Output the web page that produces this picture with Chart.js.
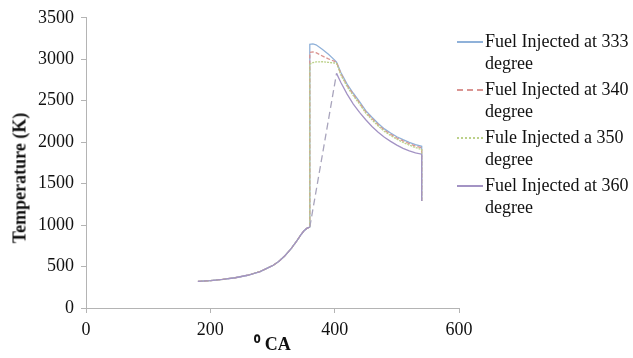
<!DOCTYPE html>
<html>
<head>
<meta charset="utf-8">
<script src="https://cdn.jsdelivr.net/npm/chart.js@4.4.1/dist/chart.umd.min.js"></script>
<style>
    html, body { margin: 0; padding: 0; background: #fff; }
    #wrap { position: relative; width: 633px; height: 358px; }
    #legend { position: absolute; left: 457px; top: 30px; font-family: 'Liberation Serif', 'Times New Roman', serif; font-size: 18px; color: #111; }
    .item { position: relative; height: 48px; line-height: 22px; padding-left: 28px; }
    .item span.mk { position: absolute; left: 0; top: 11px; width: 26px; height: 0; border-top: 2px solid; }
    #ytitle { position: absolute; left: 20px; top: 178px; transform: translate(-50%, -50%) rotate(-90deg); white-space: nowrap;
              font-family: 'Liberation Serif', 'Times New Roman', serif; font-size: 18px; font-weight: bold; color: #111; }
</style>
</head>
<body>
<div id="wrap">
    <canvas id="tempChart" width="633" height="358"></canvas>
    <div id="legend"></div>
    <div id="ytitle">Temperature (K)</div>
</div>
<script>
const compAngle = [180, 200, 220, 240, 260, 280, 300, 310, 320, 330, 340, 345, 350, 355, 360];
const compTemp  = [320, 330, 345, 365, 395, 440, 510, 560, 630, 715, 820, 875, 925, 960, 975];

const expAngle = [410, 420, 430, 440, 450, 460, 470, 480, 490, 500, 510, 520, 530, 540];
const exp333 = [2840, 2700, 2590, 2490, 2380, 2300, 2225, 2160, 2110, 2065, 2030, 1998, 1970, 1950];
const exp340 = [2825, 2685, 2575, 2475, 2365, 2285, 2210, 2145, 2095, 2050, 2015, 1983, 1953, 1932];
const exp350 = [2810, 2670, 2560, 2460, 2350, 2270, 2195, 2130, 2080, 2035, 1998, 1965, 1935, 1912];
const exp360 = [2720, 2580, 2460, 2360, 2270, 2190, 2120, 2060, 2010, 1965, 1925, 1895, 1870, 1855];

const peakAngle = [360, 365, 370, 380, 390, 400, 403];
const peak333 = [3180, 3185, 3175, 3120, 3060, 2990, 2965];
const peak340 = [3082, 3090, 3080, 3040, 3005, 2975, 2962];
const peak350 = [2940, 2960, 2968, 2970, 2962, 2955, 2950];
const peak360 = [2830];  // reached at 403 only
const endTemp = 1290;

const labels = ['Fuel Injected at 333|degree', 'Fuel Injected at 340|degree', 'Fule Injected a 350|degree', 'Fuel Injected at 360|degree'];
const colors = ['#8fb1d9', '#da9592', '#bcd18a', '#a393c4'];
const dashes = [[], [4, 2], [2, 1], []];

function build(peakA, peakT, expT) {
    const pts = compAngle.map((a, i) => ({ x: a, y: compTemp[i] }));
    peakA.forEach((a, i) => pts.push({ x: a, y: peakT[i] }));
    expAngle.forEach((a, i) => pts.push({ x: a, y: expT[i] }));
    pts.push({ x: 540, y: endTemp });
    return pts;
}

const seriesData = [
    build(peakAngle, peak333, exp333),
    build(peakAngle, peak340, exp340),
    build(peakAngle, peak350, exp350),
    build([403], peak360, exp360)
];

const isGap = ctx => ctx.p0.parsed.x === 360 && ctx.p1.parsed.x === 403;

const datasets = seriesData.map((d, i) => ({
    label: labels[i],
    data: d,
    borderColor: colors[i],
    borderWidth: 1.3,
    borderDash: dashes[i],
    pointRadius: 0,
    tension: 0,
    fill: false,
    order: 3 - i,
    segment: i === 3 ? {
        borderDash: ctx => isGap(ctx) ? [7, 4] : undefined,
        borderColor: ctx => isGap(ctx) ? '#a8a4bc' : undefined
    } : undefined
}));

const font = { family: "'Liberation Serif', 'Times New Roman', serif", size: 18 };
const axisColor = '#b4b4b4';

new Chart(document.getElementById('tempChart').getContext('2d'), {
    type: 'line',
    data: { datasets: datasets },
    options: {
        responsive: false,
        animation: false,
        layout: { padding: { left: 9, right: 174, top: 15, bottom: 0 } },
        plugins: { legend: { display: false }, tooltip: { enabled: false } },
        scales: {
            x: {
                type: 'linear',
                min: 0, max: 600,
                ticks: { stepSize: 200, color: '#111', font: font, padding: 6, callback: v => String(v) },
                grid: { drawOnChartArea: false, color: axisColor, tickLength: 5 },
                border: { color: axisColor },
                title: { display: true, text: '⁰ CA', color: '#111', font: { family: font.family, size: 18, weight: 'bold' }, padding: { top: 0, bottom: 2 } },
                afterFit: s => { s.height = 50; }
            },
            y: {
                min: 0, max: 3500,
                ticks: { stepSize: 500, color: '#111', font: font, padding: 7, callback: v => String(v) },
                grid: { drawOnChartArea: false, color: axisColor, tickLength: 5 },
                border: { color: axisColor },
                afterFit: s => { s.width = 77; }
            }
        }
    }
});

const legend = document.getElementById('legend');
labels.forEach((l, i) => {
    const div = document.createElement('div');
    div.className = 'item';
    const mk = document.createElement('span');
    mk.className = 'mk';
    mk.style.borderTopColor = colors[i];
    if (i === 1) mk.style.borderTopStyle = 'dashed';
    if (i === 2) mk.style.borderTopStyle = 'dotted';
    div.appendChild(mk);
    div.insertAdjacentHTML('beforeend', l.split('|').join('<br>'));
    legend.appendChild(div);
});
</script>
</body>
</html>
